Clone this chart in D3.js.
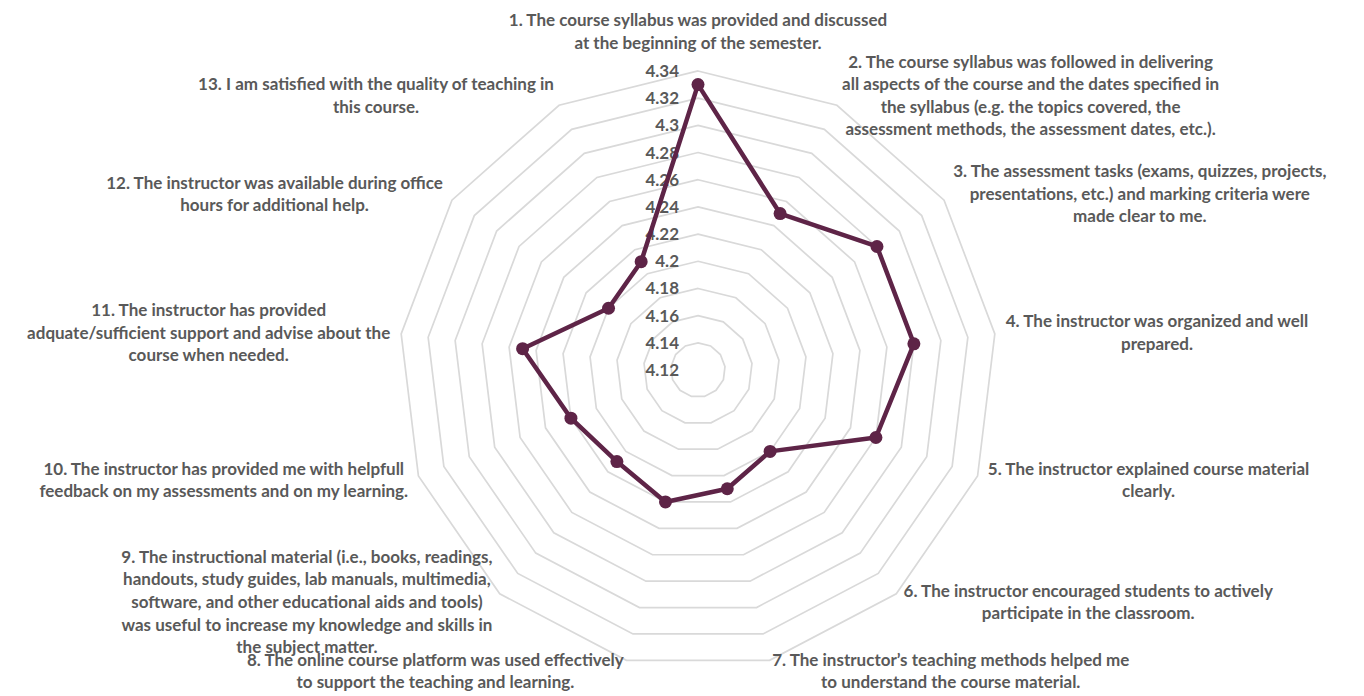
<!DOCTYPE html>
<html>
<head>
<meta charset="utf-8">
<script src="https://cdn.jsdelivr.net/npm/d3@7"></script>
<style>
  html, body { margin: 0; padding: 0; background: #ffffff; }
  svg { display: block; }
  .lbl { font-family: Lato, "Open Sans", sans-serif; font-weight: 700; fill: #595959; }
</style>
</head>
<body>
<svg id="chart" width="1364" height="696"></svg>
<script>
// ---- data ----
const categories = [
  ["1. The course syllabus was provided and discussed", "at the beginning of the semester."],
  ["2. The course syllabus was followed in delivering", "all aspects of the course and the dates specified in", "the syllabus (e.g. the topics covered, the", "assessment methods, the assessment dates, etc.)."],
  ["3. The assessment tasks (exams, quizzes, projects,", "presentations, etc.) and marking criteria were", "made clear to me."],
  ["4. The instructor was organized and well", "prepared."],
  ["5. The instructor explained course material", "clearly."],
  ["6. The instructor encouraged students to actively", "participate in the classroom."],
  ["7. The instructor\u2019s teaching methods helped me", "to understand the course material."],
  ["8. The online course platform was used effectively", "to support the teaching and learning."],
  ["9. The instructional material (i.e., books, readings,", "handouts, study guides, lab manuals, multimedia,", "software, and other educational aids and tools)", "was useful to increase my knowledge and skills in", "the subject matter."],
  ["10. The instructor has provided me with helpfull", "feedback on my assessments and on my learning."],
  ["11. The instructor has provided", "adquate/sufficient support and advise about the", "course when needed."],
  ["12. The instructor was available during office", "hours for additional help."],
  ["13. I am satisfied with the quality of teaching in", "this course."]
];
const values = [4.33, 4.25, 4.28, 4.28, 4.26, 4.20, 4.21, 4.22, 4.21, 4.22, 4.25, 4.20, 4.21];
const ticks = [4.12, 4.14, 4.16, 4.18, 4.20, 4.22, 4.24, 4.26, 4.28, 4.30, 4.32, 4.34];
const tickLabels = ["4.12", "4.14", "4.16", "4.18", "4.2", "4.22", "4.24", "4.26", "4.28", "4.3", "4.32", "4.34"];

// ---- layout ----
const cx = 698, cy = 370, R = 299;
const svg = d3.select("#chart");
const n = categories.length;
const angle = d3.scaleLinear().domain([0, n]).range([0, 2 * Math.PI]);
const r = d3.scaleLinear().domain([ticks[0], ticks[ticks.length - 1]]).range([0, R]);
const g = svg.append("g").attr("transform", `translate(${cx},${cy})`);

const pt = (i, rad) => [rad * Math.sin(angle(i)), -rad * Math.cos(angle(i))];

// grid rings
const ringLine = d3.line().curve(d3.curveLinearClosed);
g.append("g").selectAll("path")
  .data(ticks.slice(1))
  .join("path")
  .attr("d", t => ringLine(d3.range(n).map(i => pt(i, r(t)))))
  .attr("fill", "none")
  .attr("stroke", "#d9d9d9")
  .attr("stroke-width", 1.7);

// tick labels
g.append("g").selectAll("text")
  .data(ticks)
  .join("text")
  .attr("class", "lbl")
  .attr("x", -19)
  .attr("y", t => -r(t))
  .attr("dy", "0.35em")
  .attr("text-anchor", "end")
  .attr("font-size", 17)
  .text((t, i) => tickLabels[i]);

// series line
g.append("path")
  .attr("d", ringLine(values.map((v, i) => pt(i, r(v)))))
  .attr("fill", "none")
  .attr("stroke", "#5e2447")
  .attr("stroke-width", 4.5)
  .attr("stroke-linejoin", "round");

g.append("g").selectAll("circle")
  .data(values)
  .join("circle")
  .attr("cx", (v, i) => pt(i, r(v))[0])
  .attr("cy", (v, i) => pt(i, r(v))[1])
  .attr("r", 6.5)
  .attr("fill", "#5e2447");

// category labels (Excel style placement)
const labelR = R + 11;
const fs = 17, lh = 22.6;
categories.forEach((lines, i) => {
  const [ax, ay] = pt(i, labelR);
  const s = Math.sin(angle(i));
  const grp = g.append("g");
  const txt = grp.append("text").attr("class", "lbl").attr("font-size", fs).attr("text-anchor", "middle");
  lines.forEach((l, j) => txt.append("tspan").attr("x", 0).attr("y", j * lh).text(l));
  const w = d3.max(txt.selectAll("tspan").nodes(), t => t.getComputedTextLength());
  const h = lines.length * lh;
  let bx, by; // block center
  if (Math.abs(s) < 1e-6) { bx = ax; by = ay - h / 2 - 6; }
  else if (s > 0) { bx = ax + w / 2; by = ay; }
  else { bx = ax - w / 2; by = ay; }
  const y0 = by - h / 2 + lh * 0.5 + fs * 0.35;
  grp.attr("transform", `translate(${bx},${y0})`);
});
</script>
</body>
</html>
